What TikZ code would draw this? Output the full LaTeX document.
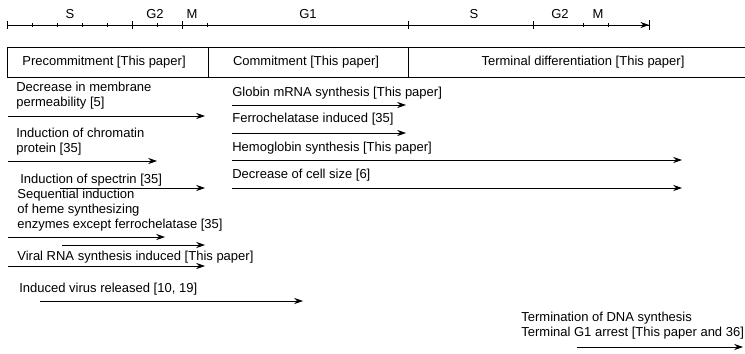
\documentclass[tikz,border=0pt]{standalone}
\usepackage{fontspec}
\setmainfont{Liberation Sans}
\usetikzlibrary{arrows.meta}

\tikzset{
  span/.style={line width=0.5pt,-{Stealth[length=5pt,width=3.5pt]}},
  lbl/.style={anchor=west,inner sep=0pt,align=left},
  phase/.style={inner sep=0pt}
}

\begin{document}
\begin{tikzpicture}[x=0.02cm,y=-0.02cm,font=\fontsize{7.4}{8.5}\selectfont]
\useasboundingbox (0,0) rectangle (745,353);
% cell cycle time line
\draw[line width=0.5pt,-{Stealth[length=5pt,width=3.5pt]Bar[width=6pt]}] (7,25) -- (650,25);
\foreach \x in {7,132,182,408,533}
  \draw[line width=0.5pt] (\x,21) -- (\x,29);
\foreach \x in {32,57,82,107,157,207,583,608}
  \draw[line width=0.5pt] (\x,23) -- (\x,27);
\node[phase] (s1) at (70,14) {S};
\node[phase] (g21) at (155,14) {G2};
\node[phase] (m1) at (192,14) {M};
\node[phase] (g1) at (308,14) {G1};
\node[phase] (s2) at (474,14) {S};
\node[phase] (g22) at (560,14) {G2};
\node[phase] (m2) at (598,14) {M};
% stages
\draw[line width=0.5pt] (745,47) -- (7,47) -- (7,77) -- (745,77);
\foreach \x in {208,408}
  \draw[line width=0.5pt] (\x,47) -- (\x,77);
\node[phase] (pre) at (104,62) {Precommitment [This paper]};
\node[phase] (com) at (306,62) {Commitment [This paper]};
\node[phase] (ter) at (583,62) {Terminal differentiation [This paper]};
% precommitment events
\node[lbl] (perm) at (16,96) {Decrease in membrane\\permeability [5]};
\draw[span] (8,116) -- (205,116);
\node[lbl] (chrom) at (16,142) {Induction of chromatin\\protein [35]};
\draw[span] (8,161) -- (157,161);
\node[lbl] (spec) at (20,180) {Induction of spectrin [35]};
\draw[span] (60,188) -- (205,188);
\node[lbl] (heme) at (17,210) {Sequential induction\\of heme synthesizing\\enzymes except ferrochelatase [35]};
\draw[span] (8,237) -- (165,237);
\draw[span] (62,245) -- (205,245);
\node[lbl] (rna) at (17,257) {Viral RNA synthesis induced [This paper]};
\draw[span] (8,266) -- (205,266);
\node[lbl] (virus) at (19,289) {Induced virus released [10, 19]};
\draw[span] (40,301) -- (303,301);
% commitment events
\node[lbl] (glob) at (232,93) {Globin mRNA synthesis [This paper]};
\draw[span] (232,105) -- (406,105);
\node[lbl] (ferro) at (232,119) {Ferrochelatase induced [35]};
\draw[span] (232,133) -- (406,133);
\node[lbl] (hemo) at (232,148) {Hemoglobin synthesis [This paper]};
\draw[span] (232,160) -- (682,160);
\node[lbl] (size) at (232,175) {Decrease of cell size [6]};
\draw[span] (232,188) -- (682,188);
% terminal events
\node[lbl] (dna) at (521,326) {Termination of DNA synthesis\\Terminal G1 arrest [This paper and 36]};
\draw[span] (577,347) -- (743,347);
\end{tikzpicture}
\end{document}
